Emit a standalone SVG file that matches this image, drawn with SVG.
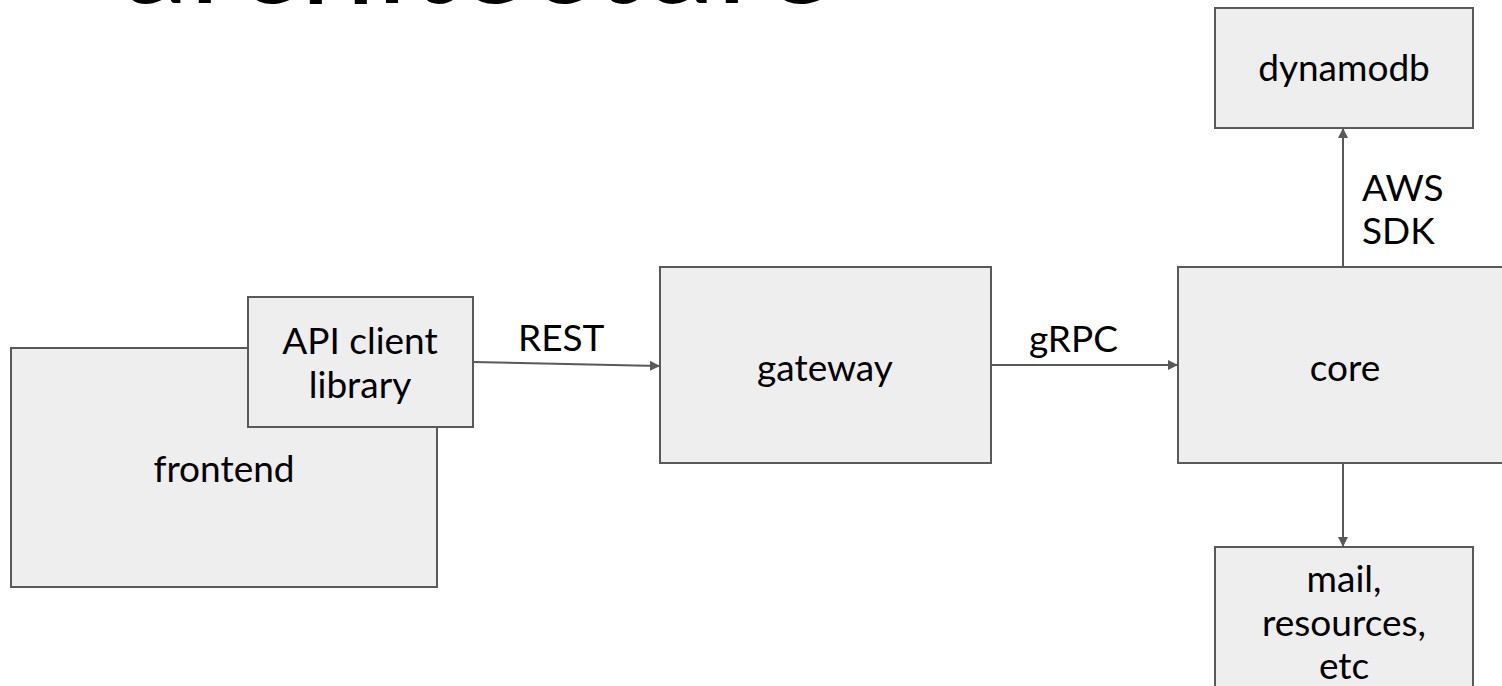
<svg xmlns="http://www.w3.org/2000/svg" width="1502" height="686" viewBox="0 0 1502 686">
<defs>
<style>
.box{fill:#eeeeee;stroke:#595959;stroke-width:2}
.lbl{font-family:Lato,"Open Sans","Liberation Sans",sans-serif;font-size:37px;fill:#000}
.mid{text-anchor:middle}
.edge{stroke:#595959;stroke-width:2;fill:none;marker-end:url(#arr)}
</style>
<marker id="arr" viewBox="0 0 10 10" refX="9" refY="5" markerWidth="5" markerHeight="5" orient="auto" markerUnits="strokeWidth">
<path d="M0,0 L10,5 L0,10 z" fill="#595959"/>
</marker>
</defs>
<rect width="1502" height="686" fill="#ffffff"/>
<text x="122" y="3" font-family="Lato,'Open Sans',sans-serif" font-size="130" textLength="712" lengthAdjust="spacingAndGlyphs" fill="#000">architecture</text>
<g id="frontend">
<rect class="box" x="11" y="348" width="426" height="239"/>
<text class="lbl mid" x="224" y="482">frontend</text>
</g>
<g id="api-client">
<rect class="box" x="248" y="297" width="225" height="130"/>
<text class="lbl mid" x="360" y="354">API client</text>
<text class="lbl mid" x="360" y="398">library</text>
</g>
<g id="gateway">
<rect class="box" x="660" y="267" width="331" height="196"/>
<text class="lbl mid" x="825" y="381">gateway</text>
</g>
<g id="core">
<rect class="box" x="1178" y="267" width="332" height="196"/>
<text class="lbl mid" x="1345" y="381">core</text>
</g>
<g id="dynamodb">
<rect class="box" x="1215" y="8" width="258" height="120"/>
<text class="lbl mid" x="1344" y="81">dynamodb</text>
</g>
<g id="mail">
<rect class="box" x="1215" y="547" width="258" height="150"/>
<text class="lbl mid" x="1344" y="592">mail,</text>
<text class="lbl mid" x="1344" y="636">resources,</text>
<text class="lbl mid" x="1344" y="679">etc</text>
</g>
<g id="connectors">
<path class="edge" d="M473,362 L659,366"/>
<text class="lbl" x="518" y="351">REST</text>
<path class="edge" d="M991,365 L1177,365"/>
<text class="lbl" x="1029" y="352">gRPC</text>
<path class="edge" d="M1343,267 L1343,129"/>
<text class="lbl" x="1362" y="201">AWS</text>
<text class="lbl" x="1362" y="244">SDK</text>
<path class="edge" d="M1343,463 L1343,546"/>
</g>
</svg>
